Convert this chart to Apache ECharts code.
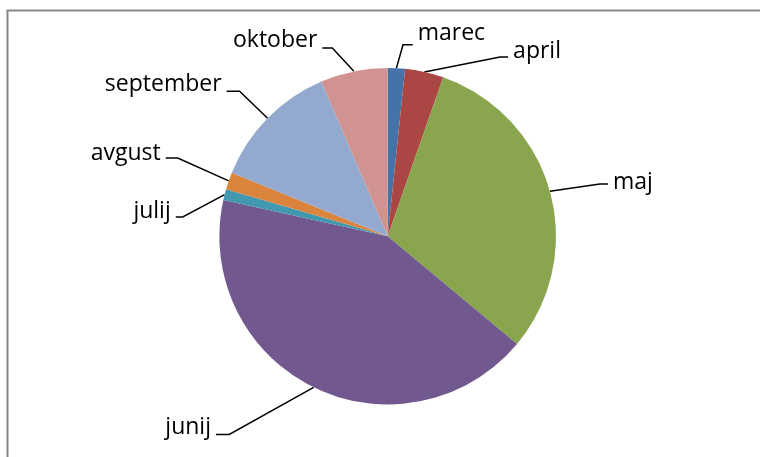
<!DOCTYPE html>
<html>
<head>
<meta charset="utf-8">
<script src="https://cdn.jsdelivr.net/npm/echarts@6/dist/echarts.min.js"></script>
<style>
html,body{margin:0;padding:0;background:#fff;}
#c{width:760px;height:457px;}
</style>
</head>
<body>
<div id="c"></div>
<script>
// Data
const months = ['marec', 'april', 'maj', 'junij', 'julij', 'avgust', 'september', 'oktober'];
const values = [1.65, 3.7, 30.7, 42.4, 1.05, 1.65, 12.4, 6.45];

// Styles
const colors = ['#4572A7', '#AA4643', '#89A54E', '#71588F', '#4198AF', '#DB843D', '#93A9CF', '#D19392'];
const bendOff = [[6.6, -23.3], [75.7, -14.9], [50, -7.3], [-84.4, 47.1], [-41.9, 22.3], [-51, -22.9], [-28, -27], [-21.5, -23.3]];
const hLen = [9.7, 8, 8, 13.3, 7, 12, 13, 10];
const textDy = [-11, -6, -2, -7, -5, -5, -7, -8];

const chart = echarts.init(document.getElementById('c'), null, {renderer: 'canvas'});
chart.setOption({
  animation: false,
  backgroundColor: '#fff',
  graphic: [{
    type: 'rect',
    shape: {x: 7.5, y: 10.5, width: 800, height: 500},
    style: {fill: 'none', stroke: '#878787', lineWidth: 2}
  }],
  series: [{
    type: 'pie',
    center: [387.7, 236.2],
    radius: 168.3,
    startAngle: 90,
    clockwise: true,
    avoidLabelOverlap: false,
    data: months.map((m, i) => ({name: m, value: values[i], itemStyle: {color: colors[i]}})),
    itemStyle: {borderWidth: 0},
    label: {
      show: true,
      position: 'outside',
      formatter: '{b}',
      color: '#000',
      fontFamily: 'Open Sans',
      fontSize: 23
    },
    labelLine: {show: true, length: 10, length2: 10, lineStyle: {color: '#000', width: 1.5}},
    labelLayout: function (p) {
      const i = p.dataIndex;
      const e = p.labelLinePoints[0];
      const b = [e[0] + bendOff[i][0], e[1] + bendOff[i][1]];
      const s = bendOff[i][0] < 0 ? -1 : 1;
      const end = [b[0] + s * hLen[i], b[1]];
      return {
        x: end[0] + s * 5,
        y: end[1] + textDy[i],
        align: s < 0 ? 'right' : 'left',
        verticalAlign: 'middle',
        labelLinePoints: [e, b, end]
      };
    },
    emphasis: {disabled: true}
  }]
});
</script>
</body>
</html>
